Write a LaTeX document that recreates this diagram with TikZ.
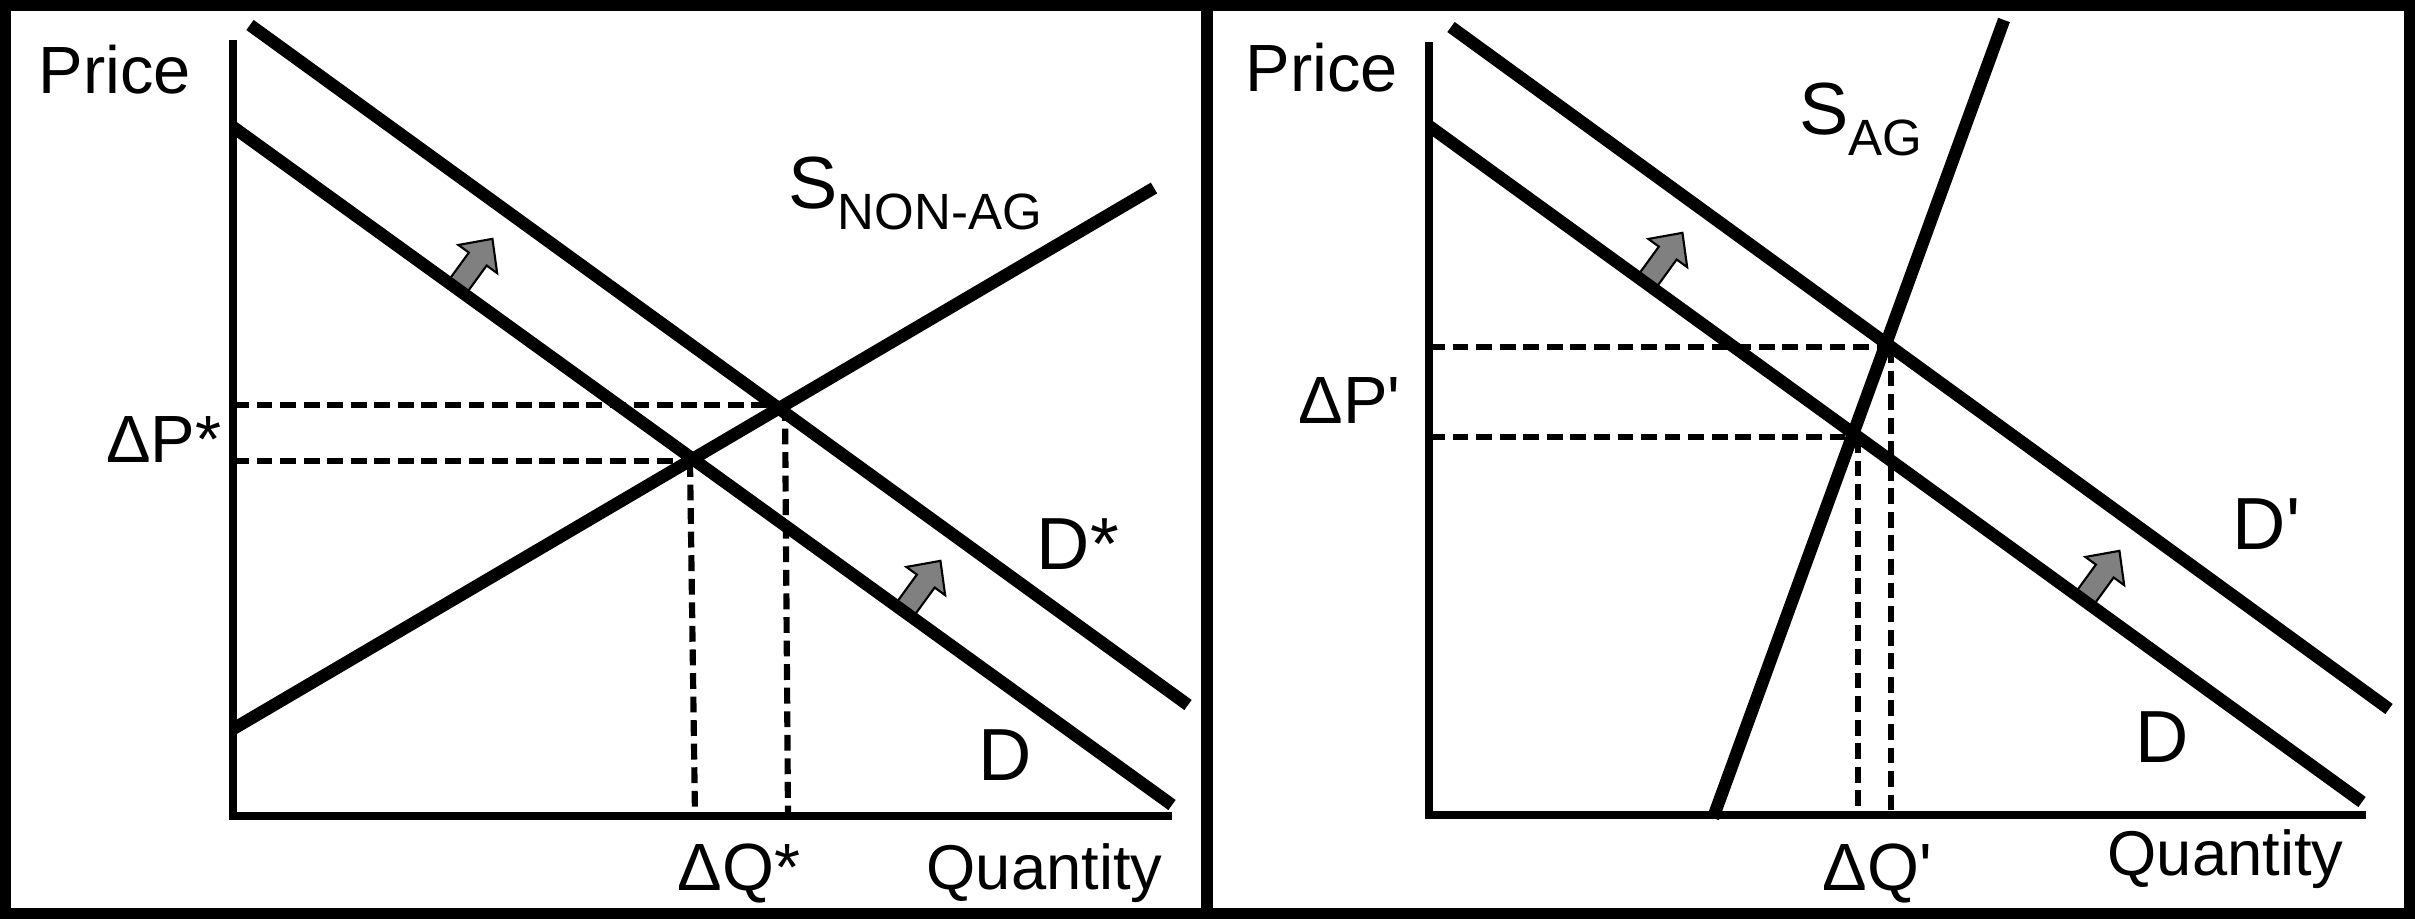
\documentclass[tikz,border=0pt]{standalone}
\usepackage{fontspec}
\setmainfont{Liberation Sans}

\begin{document}
\begin{tikzpicture}[x=0.01cm,y=-0.01cm,
    curve/.style={line width=3.55pt},
    axis/.style={line width=2.3pt},
    guide/.style={line width=1.75pt,dash pattern=on 4.5pt off 2.2pt},
    shiftarrow/.style={draw=black,fill=black!50,line width=0.6pt,line join=miter},
    lab/.style={inner sep=0pt,anchor=base west,font=\fontsize{19}{22}\selectfont},
    axislab/.style={lab,font=\fontsize{18}{21}\selectfont},
    curvelab/.style={inner sep=0pt,anchor=base west,font=\fontsize{21}{25}\selectfont}]
  \useasboundingbox (0,0) rectangle (2415,919);
  \draw[line width=3.1pt] (5.5,5.5) rectangle (2409.5,913.5);
  \draw[line width=3.4pt] (1207,0) -- (1207,919);

  \coordinate (lO) at (233,816);
  \coordinate (lPtop) at (233,40);
  \coordinate (lQend) at (1172,816);
  \coordinate (lD1) at (233,127);
  \coordinate (lD2) at (1172,805);
  \coordinate (lDs1) at (250,25);
  \coordinate (lDs2) at (1188,705);
  \coordinate (lS1) at (233,729);
  \coordinate (lS2) at (1154,188);
  \coordinate (lE) at (692,461);
  \coordinate (lEs) at (780,405);
  \coordinate (lP) at (233,461);
  \coordinate (lPs) at (233,405);
  \coordinate (lEv) at (690,461);
  \coordinate (lEsv) at (785,405);
  \coordinate (lQ) at (695,816);
  \coordinate (lQs) at (788,816);

  \coordinate (rO) at (1429,815);
  \coordinate (rPtop) at (1429,42);
  \coordinate (rQend) at (2366,815);
  \coordinate (rD1) at (1429,126);
  \coordinate (rD2) at (2362,802);
  \coordinate (rDs1) at (1451,27);
  \coordinate (rDs2) at (2389,709);
  \coordinate (rS1) at (1713,818);
  \coordinate (rS2) at (2004,20);
  \coordinate (rE) at (1850,437);
  \coordinate (rEs) at (1889,347);
  \coordinate (rP) at (1429,437);
  \coordinate (rPs) at (1429,347);
  \coordinate (rEv) at (1858,437);
  \coordinate (rEsv) at (1891,347);
  \coordinate (rQ) at (1858,815);
  \coordinate (rQs) at (1891,815);

  \draw[guide] (lPs) -- (lEs);
  \draw[guide] (lP) -- (lE);
  \draw[guide] (lEsv) -- (lQs);
  \draw[guide] (lEv) -- (lQ);
  \draw[guide] (rPs) -- (rEs);
  \draw[guide] (rP) -- (rE);
  \draw[guide] (rEsv) -- (rQs);
  \draw[guide] (rEv) -- (rQ);

  \foreach \ax/\ay in {456/289,904/611,1646/283,2083/601}
    \draw[shiftarrow,shift={(\ax,\ay)},rotate=54]
      (0,-11) -- (37,-11) -- (37,-24) -- (62,0) -- (37,24) -- (37,11) -- (0,11) -- cycle;

  \draw[axis] (lPtop) -- ([yshift=-0.04cm]lO);
  \draw[axis] ([xshift=-0.04cm]lO) -- (lQend);
  \draw[axis] (rPtop) -- ([yshift=-0.04cm]rO);
  \draw[axis] ([xshift=-0.04cm]rO) -- (rQend);

  \draw[curve] (lD1) -- (lD2);
  \draw[curve] (lDs1) -- (lDs2);
  \draw[curve] (lS1) -- (lS2);
  \draw[curve] (rD1) -- (rD2);
  \draw[curve] (rDs1) -- (rDs2);
  \draw[curve] (rS1) -- (rS2);

  \node[lab] (lprice) at (38,94) {Price};
  \node[lab,anchor=base east] (ldp) at (222,463) {ΔP*};
  \node[lab] (ldq) at (677,890) {ΔQ*};
  \node[axislab] (lqty) at (926,889) {Quantity};
  \node[curvelab] (ldstar) at (1036,570) {D*};
  \node[curvelab] (ld) at (978,781) {D};
  \node[curvelab] (lsupply) at (788,209) {S\raisebox{-5.7pt}{\fontsize{14.5}{16}\selectfont NON-AG}};

  \node[lab] (rprice) at (1245,92) {Price};
  \node[lab] (rdp) at (1298,424) {ΔP\textquotesingle};
  \node[lab] (rdq) at (1822,890) {ΔQ\textquotesingle};
  \node[axislab] (rqty) at (2107,875) {Quantity};
  \node[curvelab] (rdprime) at (2232,550) {D\textquotesingle};
  \node[curvelab] (rd) at (2135,762) {D};
  \node[curvelab] (rsupply) at (1799,135) {S\raisebox{-5.7pt}{\fontsize{14.5}{16}\selectfont AG}};
\end{tikzpicture}
\end{document}
